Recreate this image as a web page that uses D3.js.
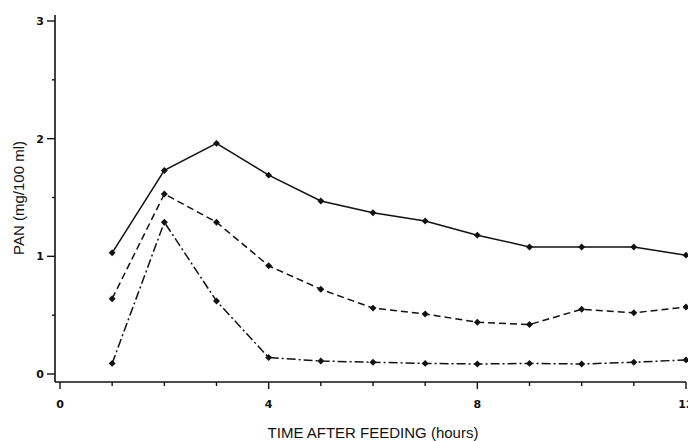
<!DOCTYPE html>
<html>
<head>
<meta charset="utf-8">
<script src="https://cdn.jsdelivr.net/npm/d3@7"></script>
<style>
  body { margin: 0; background: #fff; }
  svg { display: block; }
  .tick-label { font-family: "DejaVu Sans", sans-serif; font-weight: bold; font-size: 11px; fill: #111; }
  .axis-title { font-family: "Liberation Sans", Arial, sans-serif; font-size: 15px; fill: #111; }
</style>
</head>
<body>
<div id="chart"></div>
<script>
// Data
var hours = [1, 2, 3, 4, 5, 6, 7, 8, 9, 10, 11, 12]
var solidSeries = [1.03, 1.73, 1.96, 1.69, 1.47, 1.37, 1.30, 1.18, 1.08, 1.08, 1.08, 1.01]
var dashedSeries = [0.64, 1.53, 1.29, 0.92, 0.72, 0.56, 0.51, 0.44, 0.42, 0.55, 0.52, 0.57]
var dashDotSeries = [0.09, 1.29, 0.62, 0.14, 0.11, 0.10, 0.09, 0.085, 0.09, 0.085, 0.10, 0.12]
var xTickLabels = [0, 4, 8, 12]
var yTickLabels = [0, 1, 2, 3]

var width = 688
var height = 441

var svg = d3.select('#chart')
    .append('svg')
    .attr('width', width)
    .attr('height', height)

// scales
var xScale = d3.scaleLinear()
    .domain([0, 12])
    .range([60, 686])
var yScale = d3.scaleLinear()
    .domain([0, 3])
    .range([374, 21])

var axisX = 55   // y axis line position
var axisY = 382  // x axis line position

// y axis
var yAxis = svg.append('g')
yAxis.append('line')
    .attr('x1', axisX).attr('x2', axisX)
    .attr('y1', yScale(3) - 6).attr('y2', axisY)
    .attr('stroke', '#111').attr('stroke-width', 1.6)
d3.range(0, 3.01, 0.5).forEach(v => {
    var major = Number.isInteger(v)
    yAxis.append('line')
        .attr('x1', axisX - (major ? 8 : 3)).attr('x2', axisX)
        .attr('y1', yScale(v)).attr('y2', yScale(v))
        .attr('stroke', '#111').attr('stroke-width', 1.4)
})
yAxis.selectAll('text')
    .data(yTickLabels)
    .join('text')
    .attr('class', 'tick-label')
    .attr('x', axisX - 11)
    .attr('y', d => yScale(d) + 4)
    .attr('text-anchor', 'end')
    .text(d => d)

// x axis
var xAxis = svg.append('g')
xAxis.append('line')
    .attr('x1', axisX).attr('x2', xScale(12))
    .attr('y1', axisY).attr('y2', axisY)
    .attr('stroke', '#111').attr('stroke-width', 1.6)
d3.range(0, 13).forEach(h => {
    var major = h % 4 === 0
    xAxis.append('line')
        .attr('x1', xScale(h)).attr('x2', xScale(h))
        .attr('y1', axisY).attr('y2', axisY + (major ? 7 : 4))
        .attr('stroke', '#111').attr('stroke-width', 1.4)
})
xAxis.selectAll('text')
    .data(xTickLabels)
    .join('text')
    .attr('class', 'tick-label')
    .attr('x', d => xScale(d))
    .attr('y', 408)
    .attr('text-anchor', 'middle')
    .text(d => d)

// axis titles
svg.append('text')
    .attr('class', 'axis-title')
    .attr('x', 373)
    .attr('y', 438)
    .attr('text-anchor', 'middle')
    .text('TIME AFTER FEEDING (hours)')

svg.append('text')
    .attr('class', 'axis-title')
    .attr('text-anchor', 'middle')
    .attr('transform', `translate(24,${198})rotate(-90)`)
    .text('PAN (mg/100 ml)')

// series
var series = [
    { values: solidSeries, dash: null },
    { values: dashedSeries, dash: '7,4' },
    { values: dashDotSeries, dash: '9,3,2,3' }
]

var line = d3.line()
    .x((d, i) => xScale(hours[i]))
    .y(d => yScale(d))

series.forEach(s => {
    svg.append('path')
        .datum(s.values)
        .attr('d', line)
        .attr('fill', 'none')
        .attr('stroke', '#111')
        .attr('stroke-width', 1.5)
        .attr('stroke-dasharray', s.dash)

    // markers: squares turned 45 degrees
    svg.append('g')
        .selectAll('path')
        .data(s.values)
        .join('path')
        .attr('d', d3.symbol().type(d3.symbolSquare).size(24))
        .attr('transform', (d, i) => `translate(${xScale(hours[i])},${yScale(d)})rotate(45)`)
        .attr('fill', '#111')
})
</script>
</body>
</html>
